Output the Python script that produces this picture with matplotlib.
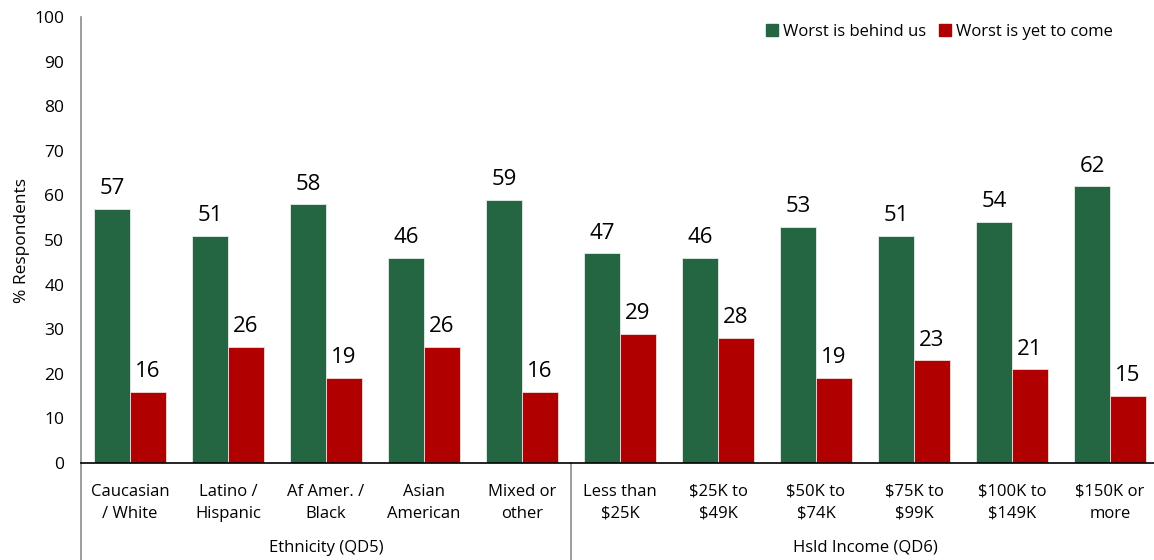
import matplotlib
matplotlib.use("Agg")
import matplotlib.pyplot as plt
import numpy as np
from matplotlib.lines import Line2D
from matplotlib.patches import Patch

categories = ["Caucasian\n/ White", "Latino /\nHispanic", "Af Amer. /\nBlack", "Asian\nAmerican",
              "Mixed or\nother", "Less than\n$25K", "$25K to\n$49K", "$50K to\n$74K",
              "$75K to\n$99K", "$100K to\n$149K", "$150K or\nmore"]
behind = [57, 51, 58, 46, 59, 47, 46, 53, 51, 54, 62]
yet = [16, 26, 19, 26, 16, 29, 28, 19, 23, 21, 15]
groups = ["Ethnicity (QD5)", "Hsld Income (QD6)"]
group_sizes = [5, 6]
series = ["Worst is behind us", "Worst is yet to come"]

GREEN = "#236641"
RED = "#B00000"

plt.rcParams['font.family'] = ['Open Sans', 'DejaVu Sans']

W, H = 1154, 560
fig = plt.figure(figsize=(W / 100, H / 100), dpi=100)
x0, x1 = 81, 1159
ytop, ybot = 17, 463
ax = fig.add_axes([x0 / W, (H - ybot) / H, (x1 - x0) / W, (ybot - ytop) / H])

x = np.arange(len(categories))
bw = 0.367
b1 = ax.bar(x - bw / 2, behind, bw, color=GREEN, edgecolor="#e6eee9", linewidth=0.6)
b2 = ax.bar(x + bw / 2, yet, bw, color=RED, edgecolor="#f3dcdc", linewidth=0.6)

for rect, v in zip(b1, behind):
    ax.text(rect.get_x() + rect.get_width() / 2, v + 2.2, str(v), ha="center", va="bottom", fontsize=16)
for rect, v in zip(b2, yet):
    ax.text(rect.get_x() + rect.get_width() / 2, v + 2.2, str(v), ha="center", va="bottom", fontsize=16)

ax.set_xlim(-0.5, len(categories) - 0.5)
ax.set_ylim(0, 100)
ax.set_yticks(range(0, 101, 10))
ax.tick_params(axis="y", length=0, labelsize=12.5, pad=12)
ax.tick_params(axis="x", length=0, labelsize=12, pad=15)
ax.set_xticks(x)
ax.set_xticklabels(categories, linespacing=1.5)
for s in ["top", "right"]:
    ax.spines[s].set_visible(False)
ax.spines["left"].set_color("#8c8c8c")
ax.spines["left"].set_linewidth(1.2)
ax.spines["bottom"].set_color("black")
ax.spines["bottom"].set_linewidth(1.2)
ax.set_ylabel("% Respondents", fontsize=12.5, labelpad=3)

# group separators and labels
trans = ax.get_xaxis_transform()
start = -0.5
bounds = [start]
for n in group_sizes:
    bounds.append(bounds[-1] + n)
for b in bounds[:-1]:
    ax.add_line(Line2D([b, b], [0, -0.22], transform=trans, color="#8c8c8c", lw=1.2, clip_on=False))
for i, g in enumerate(groups):
    ax.text((bounds[i] + bounds[i + 1]) / 2, -0.19, g, transform=trans, ha="center", va="center", fontsize=12)

handles = [Patch(color=GREEN), Patch(color=RED)]
leg = fig.legend(handles, series, loc="center right", bbox_to_anchor=(1128 / W, 1 - 32 / H), ncol=2,
                 frameon=False, fontsize=12, handlelength=0.7, handleheight=0.7, handletextpad=0.3,
                 columnspacing=0.8)

fig.savefig("out.png", dpi=100)
